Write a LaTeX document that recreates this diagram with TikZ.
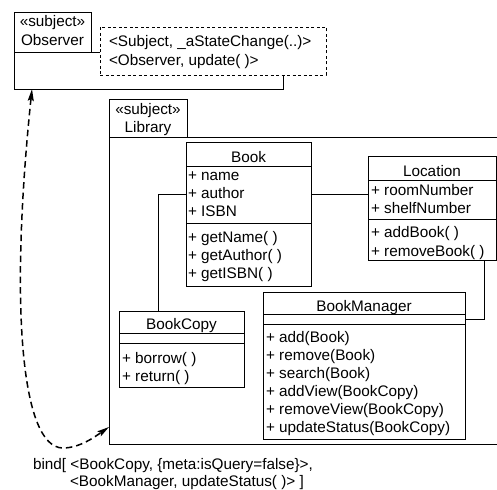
\documentclass[tikz,border=0pt]{standalone}
\usepackage{fontspec}
\setmainfont{Liberation Sans}
\usetikzlibrary{arrows.meta}
\tikzset{
  box/.style={draw, line width=0.9pt, inner sep=0pt, outer sep=0pt, anchor=north west},
  ln/.style={line width=0.9pt},
  txt/.style={inner sep=0pt, outer sep=0pt, anchor=base west, font=\fontsize{15.3}{17}\selectfont},
  ctxt/.style={inner sep=0pt, outer sep=0pt, anchor=base, font=\fontsize{15.3}{17}\selectfont},
  bindline/.style={line width=1.5pt, dash pattern=on 6.5pt off 4pt, {Stealth[length=12pt,width=6pt,inset=2pt]}-{Stealth[length=12pt,width=6pt,inset=2pt]}},
}
\begin{document}
\begin{tikzpicture}[x=1pt,y=-1pt]
\useasboundingbox (0,0) rectangle (497,489);
\begin{scope}
\clip (0,0) rectangle (497,489);
% Observer package
\node[box, minimum width=77pt, minimum height=40pt] (obstab) at (14,12) {};
\node[ctxt] (obsst) at (52.5,27) {«subject»};
\node[ctxt] (obsname) at (52.5,46) {Observer};
\node[box, minimum width=269pt, minimum height=37pt] (observer) at (14,52) {};
\node[box, fill=white, dash pattern=on 3pt off 2.5pt, line width=0.8pt, minimum width=226pt, minimum height=48pt] (params) at (100,27) {};
\node[txt] (p1) at (109,47) {<Subject, \_aStateChange(..)>};
\node[txt] (p2) at (109,66) {<Observer, update( )>};
% Library package
\node[box, minimum width=78pt, minimum height=38pt] (libtab) at (109,99) {};
\node[ctxt] (libst) at (148,115) {«subject»};
\node[ctxt] (libname) at (148,133) {Library};
\node[box, minimum width=420pt, minimum height=307pt] (library) at (109,137) {};
% Book
\node[box, minimum width=125pt, minimum height=144pt] (book) at (186,142) {};
\draw[ln] (book.west |- 0,166) -- (book.east |- 0,166);
\draw[ln] (book.west |- 0,223) -- (book.east |- 0,223);
\node[ctxt] (bookn) at (248.5,162) {Book};
\node[txt] (b1) at (188,180) {+ name};
\node[txt] (b2) at (188,198) {+ author};
\node[txt] (b3) at (188,216) {+ ISBN};
\node[txt] (b4) at (188,242) {+ getName( )};
\node[txt] (b5) at (188,260) {+ getAuthor( )};
\node[txt] (b6) at (188,278) {+ getISBN( )};
% Location
\node[box, minimum width=128pt, minimum height=104pt] (location) at (368,156) {};
\draw[ln] (location.west |- 0,180) -- (location.east |- 0,180);
\draw[ln] (location.west |- 0,219) -- (location.east |- 0,219);
\node[ctxt] (locn) at (432,176) {Location};
\node[txt] (l1) at (371,195) {+ roomNumber};
\node[txt] (l2) at (371,213) {+ shelfNumber};
\node[txt] (l3) at (371,237) {+ addBook( )};
\node[txt] (l4) at (371,256) {+ removeBook( )};
% BookCopy
\node[box, minimum width=125pt, minimum height=76pt] (bookcopy) at (119,311) {};
\draw[ln] (bookcopy.west |- 0,333) -- (bookcopy.east |- 0,333);
\draw[ln] (bookcopy.west |- 0,343) -- (bookcopy.east |- 0,343);
\node[ctxt] (bcn) at (181.5,329) {BookCopy};
\node[txt] (c1) at (122,363) {+ borrow( )};
\node[txt] (c2) at (122,381) {+ return( )};
% BookManager
\node[box, minimum width=202pt, minimum height=147pt] (bookmanager) at (263,292) {};
\draw[ln] (bookmanager.west |- 0,314) -- (bookmanager.east |- 0,314);
\draw[ln] (bookmanager.west |- 0,324) -- (bookmanager.east |- 0,324);
\node[ctxt] (bmn) at (364,311) {BookManager};
\node[txt] (m1) at (266,342) {+ add(Book)};
\node[txt] (m2) at (266,360) {+ remove(Book)};
\node[txt] (m3) at (266,378) {+ search(Book)};
\node[txt] (m4) at (266,396) {+ addView(BookCopy)};
\node[txt] (m5) at (266,414) {+ removeView(BookCopy)};
\node[txt] (m6) at (266,432) {+ updateStatus(BookCopy)};
% connectors
\draw[ln] (book.east |- 0,194) -- (location.west |- 0,194);
\draw[ln] (book.west |- 0,194) -| (bookcopy.north -| 158,0);
\draw[ln] (location.south -| 484,0) |- (bookmanager.east |- 0,319);
% binding
\coordinate (obsend) at (observer.south -| 32,0);
\coordinate (libend) at (library.west |- 0,427);
\coordinate (low) at (63,448);
\draw[bindline] (obsend) .. controls (10,300) and (20,448) .. (low) .. controls (80,448) and (96,436) .. (libend);
\node[txt] (bind1) at (33,469) {bind[ <BookCopy, \{meta:isQuery=false\}>,};
\node[txt] (bind2) at (70,486) {<BookManager, updateStatus( )> ]};
\end{scope}
\end{tikzpicture}
\end{document}
